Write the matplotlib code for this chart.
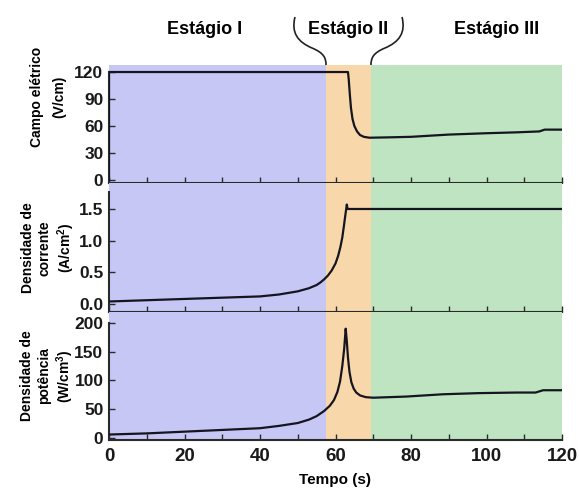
import matplotlib
matplotlib.use('Agg')
import matplotlib.pyplot as plt
from matplotlib.path import Path
from matplotlib.patches import PathPatch

plt.rcParams['font.family'] = ['Liberation Sans', 'DejaVu Sans']
plt.rcParams['font.weight'] = 'bold'
plt.rcParams['mathtext.fontset'] = 'custom'
plt.rcParams['mathtext.bf'] = 'Liberation Sans:bold'
plt.rcParams['mathtext.rm'] = 'Liberation Sans:bold'
plt.rcParams['mathtext.default'] = 'bf'

# stage limits (s)
stage_edges = [0, 57.5, 69.3, 120]
stage_colors = ['#c7c7f6', '#f8d8aa', '#bee4c2']
stage_names = ['Estágio I', 'Estágio II', 'Estágio III']

# campo eletrico (V/cm)
t_e = [0, 0, 10, 30, 50, 63.3, 63.5, 63.8, 64.1, 64.5, 65.0, 65.7, 66.5, 67.5, 69, 75, 80, 90, 100, 108, 114, 115.4, 120]
campo = [0, 120, 120, 120, 120, 120, 112, 95, 80, 68, 60, 54, 50, 48, 47, 47.5, 48, 50.5, 52, 53, 54, 56, 56]

# densidade de corrente (A/cm2)
t_j = [0, 10, 20, 30, 40, 45, 50, 53, 55, 56, 57, 58, 59, 60, 60.7, 61.3, 61.8, 62.2, 62.6, 63.0, 63.2, 70, 90, 120]
corrente = [0.04, 0.06, 0.08, 0.10, 0.12, 0.15, 0.20, 0.25, 0.30, 0.34, 0.39, 0.45, 0.53, 0.64, 0.76, 0.90,
            1.05, 1.22, 1.40, 1.57, 1.5, 1.5, 1.5, 1.5]

# densidade de potencia (W/cm3)
t_p = [0, 10, 20, 30, 40, 45, 50, 53, 55, 57, 58.5, 59.6, 60.5, 61.2, 61.8, 62.3, 62.7, 63.0, 63.3, 63.7,
       64.2, 64.8, 65.5, 66.5, 68, 70, 78.7, 88.5, 98, 108, 113, 115, 120]
potencia = [6, 8, 11, 14, 17, 21, 26, 32, 38, 47, 56, 66, 80, 98, 125, 155, 190, 168, 140, 115,
            97, 86, 79, 74, 71, 70, 72, 76, 78, 79, 79, 83, 83]

W, H = 579, 493
fig = plt.figure(figsize=(W / 100, H / 100), dpi=100)


def fx(px):
    return px / W


def fy(py):
    return 1 - py / H


left, right = 109, 562
panels = [
    # top, bottom (px), ylim, yticks, ticklabels, spine top
    (65, 183, (-3.3, 127.8), [0, 30, 60, 90, 120], ['0', '30', '60', '90', '120'], 120),
    (183, 312, (-0.126, 1.91), [0.0, 0.5, 1.0, 1.5], ['0.0', '0.5', '1.0', '1.5'], 1.77),
    (312, 440, (-3.5, 219), [0, 50, 100, 150, 200], ['0', '50', '100', '150', '200'], 200),
]
series = [(t_e, campo), (t_j, corrente), (t_p, potencia)]

axes = []
for i, (top, bot, ylim, yt, ytl, stop) in enumerate(panels):
    ax = fig.add_axes([fx(left), fy(bot), fx(right - left), (bot - top) / H])
    for k in range(3):
        ax.axvspan(stage_edges[k], stage_edges[k + 1], color=stage_colors[k], lw=0, zorder=0)
    t, v = series[i]
    ax.plot(t, v, color='#151520', lw=1.6, zorder=3, solid_joinstyle='round')
    ax.set_xlim(0, 120)
    ax.set_ylim(*ylim)
    ax.set_facecolor('none')
    ax.spines['top'].set_visible(False)
    ax.spines['right'].set_visible(False)
    for s in ['left', 'bottom']:
        ax.spines[s].set_linewidth(1.5)
        ax.spines[s].set_color('#2a2a2a')
    ax.spines['left'].set_bounds(ylim[0], stop)
    ax.set_yticks(yt)
    ax.set_yticklabels(ytl)
    ax.set_xticks(range(0, 121, 10))
    ax.tick_params(axis='y', direction='in', length=4, width=1, labelsize=12.5, pad=4, colors='#2a2a2a',
                   labelcolor='#1a1a1a')
    ax.tick_params(axis='x', direction='in', length=4, width=1, labelsize=13.5, pad=6, colors='#2a2a2a',
                   labelcolor='#1a1a1a')
    if i < 2:
        ax.tick_params(axis='x', labelbottom=False)
    else:
        ax.set_xticklabels([str(x) if x % 20 == 0 else '' for x in range(0, 121, 10)])
    axes.append(ax)

# y labels
fig.text(fx(48), fy(97), 'Campo elétrico\n(V/cm)', rotation=90, ha='center', va='center',
         multialignment='center', fontsize=10, linespacing=1.7)
fig.text(fx(49), fy(248), 'Densidade de\ncorrente\n(A/cm$^2$)', rotation=90, ha='center', va='center',
         multialignment='center', fontsize=10, linespacing=1.25)
fig.text(fx(48), fy(376), 'Densidade de\npotência\n(W/cm$^3$)', rotation=90, ha='center', va='center',
         multialignment='center', fontsize=10, linespacing=1.25)

fig.text(fx(335), fy(480), 'Tempo (s)', ha='center', va='center', fontsize=11)

# stage titles
for name, xc in zip(stage_names, [205, 348, 497]):
    fig.text(fx(xc), fy(30), name, ha='center', va='center', fontsize=13)

# braces around stage II
for pts in ([(295, 17), (291, 33), (298, 42), (312, 48), (324, 53), (326, 58), (326, 65)],
            [(402, 17), (406, 33), (399, 42), (385, 48), (373, 53), (371, 58), (371, 65)]):
    verts = [(fx(x), fy(y)) for x, y in pts]
    codes = [Path.MOVETO] + [Path.CURVE4] * 6
    fig.add_artist(PathPatch(Path(verts, codes), fill=False, lw=1.2, ec='#222222',
                             transform=fig.transFigure))

fig.savefig('out.png', dpi=100)
